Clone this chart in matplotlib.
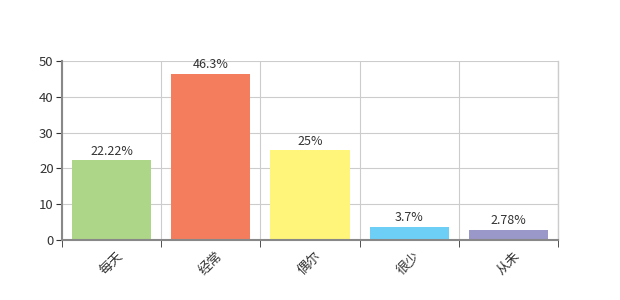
import matplotlib
matplotlib.use("Agg")
import matplotlib.pyplot as plt
import numpy as np

plt.rcParams['font.family'] = ['Noto Sans CJK SC', 'DejaVu Sans']

categories = ['每天', '经常', '偶尔', '很少', '从未']
values = [22.22, 46.3, 25, 3.7, 2.78]
value_labels = ['22.22%', '46.3%', '25%', '3.7%', '2.78%']
colors = ['#aed688', '#f47d5e', '#fff57a', '#6dcff6', '#9a97c9']
yticks = [0, 10, 20, 30, 40, 50]

fig = plt.figure(figsize=(6.2, 3.0), dpi=100)
ax = fig.add_axes([0.1, 0.2, 0.8, 0.597])

x = np.arange(len(categories))
ax.bar(x, values, width=0.8, color=colors, zorder=3)
for xi, v, lab in zip(x, values, value_labels):
    ax.text(xi, v + 0.8, lab, ha='center', va='bottom', fontsize=9, color='#333333', zorder=4)

ax.set_xlim(-0.5, len(categories) - 0.5)
ax.set_ylim(0, 50)
ax.set_yticks(yticks)
ax.set_yticklabels([str(t) for t in yticks], fontsize=9.5, color='#333333')
ax.set_xticks(x)
ax.set_xticklabels(categories, rotation=45, fontsize=9.5, color='#333333', ha='center')
ax.tick_params(axis='x', length=0, pad=7)
ax.set_xticks(np.arange(-0.5, len(categories)), minor=True)
ax.tick_params(axis='x', which='minor', length=5, color='#333333', direction='out')
ax.tick_params(axis='y', length=4, color='#333333', pad=2)

ax.grid(True, axis='y', color='#cccccc', linewidth=0.8, zorder=0)
ax.grid(True, axis='x', which='minor', color='#cccccc', linewidth=0.8, zorder=0)
ax.grid(False, axis='x', which='major')

for side in ['top', 'right']:
    ax.spines[side].set_visible(False)
ax.spines['left'].set_color('#888888')
ax.spines['left'].set_linewidth(1.5)
ax.spines['bottom'].set_color('#888888')
ax.spines['bottom'].set_linewidth(1.5)
ax.spines['left'].set_zorder(5)
ax.spines['bottom'].set_zorder(5)
ax.axvline(len(categories) - 0.5, color='#cccccc', linewidth=1.0, zorder=0, clip_on=False)

fig.savefig('out.png', dpi=100)
